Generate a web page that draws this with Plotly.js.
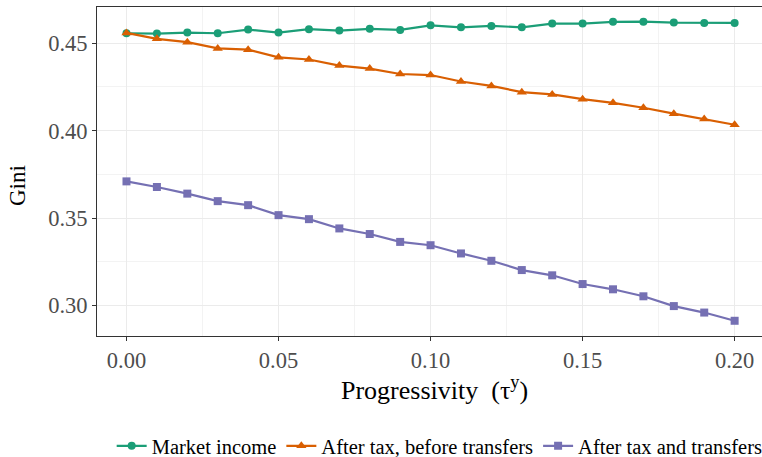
<!DOCTYPE html>
<html>
<head>
<meta charset="utf-8">
<script src="https://cdn.plot.ly/plotly-3.0.1.min.js"></script>
<style>
  html, body { margin: 0; padding: 0; background: #ffffff; }
  #chart { width: 762px; height: 457px; }
</style>
</head>
<body>
<div id="chart"></div>
<script>
// Progressivity levels of the income tax (tau^y)
const progressivity = [0.00, 0.01, 0.02, 0.03, 0.04, 0.05, 0.06, 0.07, 0.08, 0.09, 0.10,
                       0.11, 0.12, 0.13, 0.14, 0.15, 0.16, 0.17, 0.18, 0.19, 0.20];

// Gini coefficients by income concept
const giniMarket = [0.4557, 0.4555, 0.4561, 0.4557, 0.4578, 0.4561, 0.4580, 0.4572, 0.4582, 0.4576, 0.4602,
                    0.4591, 0.4599, 0.4591, 0.4612, 0.4612, 0.4622, 0.4623, 0.4618, 0.4616, 0.4616];
const giniAfterTax = [0.4559, 0.4525, 0.4506, 0.4470, 0.4463, 0.4419, 0.4407, 0.4372, 0.4355, 0.4324, 0.4318,
                      0.4281, 0.4256, 0.4220, 0.4207, 0.4180, 0.4159, 0.4131, 0.4097, 0.4066, 0.4034];
const giniAfterTransfers = [0.3710, 0.3678, 0.3640, 0.3597, 0.3574, 0.3517, 0.3494, 0.3441, 0.3409, 0.3364, 0.3345,
                            0.3298, 0.3256, 0.3203, 0.3173, 0.3123, 0.3093, 0.3053, 0.2997, 0.2960, 0.2913];

const seriesNames = ["Market income", "After tax, before transfers", "After tax and transfers"];
const xTickVals = [0.00, 0.05, 0.10, 0.15, 0.20];
const xTickText = ["0.00", "0.05", "0.10", "0.15", "0.20"];
const yTickVals = [0.30, 0.35, 0.40, 0.45];
const yTickText = ["0.30", "0.35", "0.40", "0.45"];
const xTitle = "Progressivity\u00a0\u00a0(τ<sup>y</sup>)";
const yTitle = "Gini";

const FONT = "Liberation Serif, Times New Roman, serif";
const colors = ["#1B9E77", "#D95F02", "#7570B3"];
const symbols = ["circle", "triangle-up", "square"];
const values = [giniMarket, giniAfterTax, giniAfterTransfers];

const traces = values.map((ys, i) => ({
  type: "scatter",
  mode: "lines+markers",
  name: seriesNames[i],
  x: progressivity,
  y: ys,
  line: { color: colors[i], width: 2.2 },
  marker: { color: colors[i], symbol: symbols[i], size: i === 1 ? 9 : 8 },
  hoverinfo: "x+y+name"
}));

const gridColor = "#EBEBEB";
const axisCommon = {
  showline: true, mirror: true, linecolor: "#333333", linewidth: 1,
  ticks: "outside", ticklen: 4, tickwidth: 1, tickcolor: "#333333",
  showgrid: true, gridcolor: gridColor, gridwidth: 1.1,
  zeroline: false,
  tickfont: { family: FONT, size: 22.5, color: "#4D4D4D" },
  tickmode: "array"
};

const layout = {
  width: 762, height: 457,
  margin: { l: 97, r: 0, t: 7, b: 121 },
  paper_bgcolor: "#ffffff", plot_bgcolor: "#ffffff",
  font: { family: FONT, color: "#000000" },
  xaxis: Object.assign({}, axisCommon, {
    range: [-0.0097, 0.209],
    tickvals: xTickVals, ticktext: xTickText,
    minor: { tickvals: [0.025, 0.075, 0.125, 0.175], showgrid: true, gridcolor: gridColor, gridwidth: 0.6, ticks: "" }
  }),
  yaxis: Object.assign({}, axisCommon, {
    range: [0.2826, 0.4707],
    tickvals: yTickVals, ticktext: yTickText,
    minor: { tickvals: [0.325, 0.375, 0.425], showgrid: true, gridcolor: gridColor, gridwidth: 0.6, ticks: "" }
  }),
  annotations: [
    {
      text: xTitle, xref: "paper", yref: "paper", x: 0.508, y: -0.16,
      xanchor: "center", yanchor: "middle", showarrow: false,
      font: { family: FONT, size: 26, color: "#000000" }
    },
    {
      text: yTitle, xref: "paper", yref: "paper", x: -0.1188, y: 0.459,
      xanchor: "center", yanchor: "middle", showarrow: false, textangle: -90,
      font: { family: FONT, size: 23, color: "#000000" }
    }
  ],
  legend: {
    orientation: "h", x: 0.577, xanchor: "center", xref: "container",
    y: 0.024, yanchor: "middle", yref: "container",
    font: { family: FONT, size: 20.5, color: "#000000" },
    itemwidth: 30, tracegroupgap: 0, bgcolor: "rgba(0,0,0,0)"
  },
  showlegend: true
};

Plotly.newPlot("chart", traces, layout, { displayModeBar: false, staticPlot: true });
</script>
</body>
</html>
